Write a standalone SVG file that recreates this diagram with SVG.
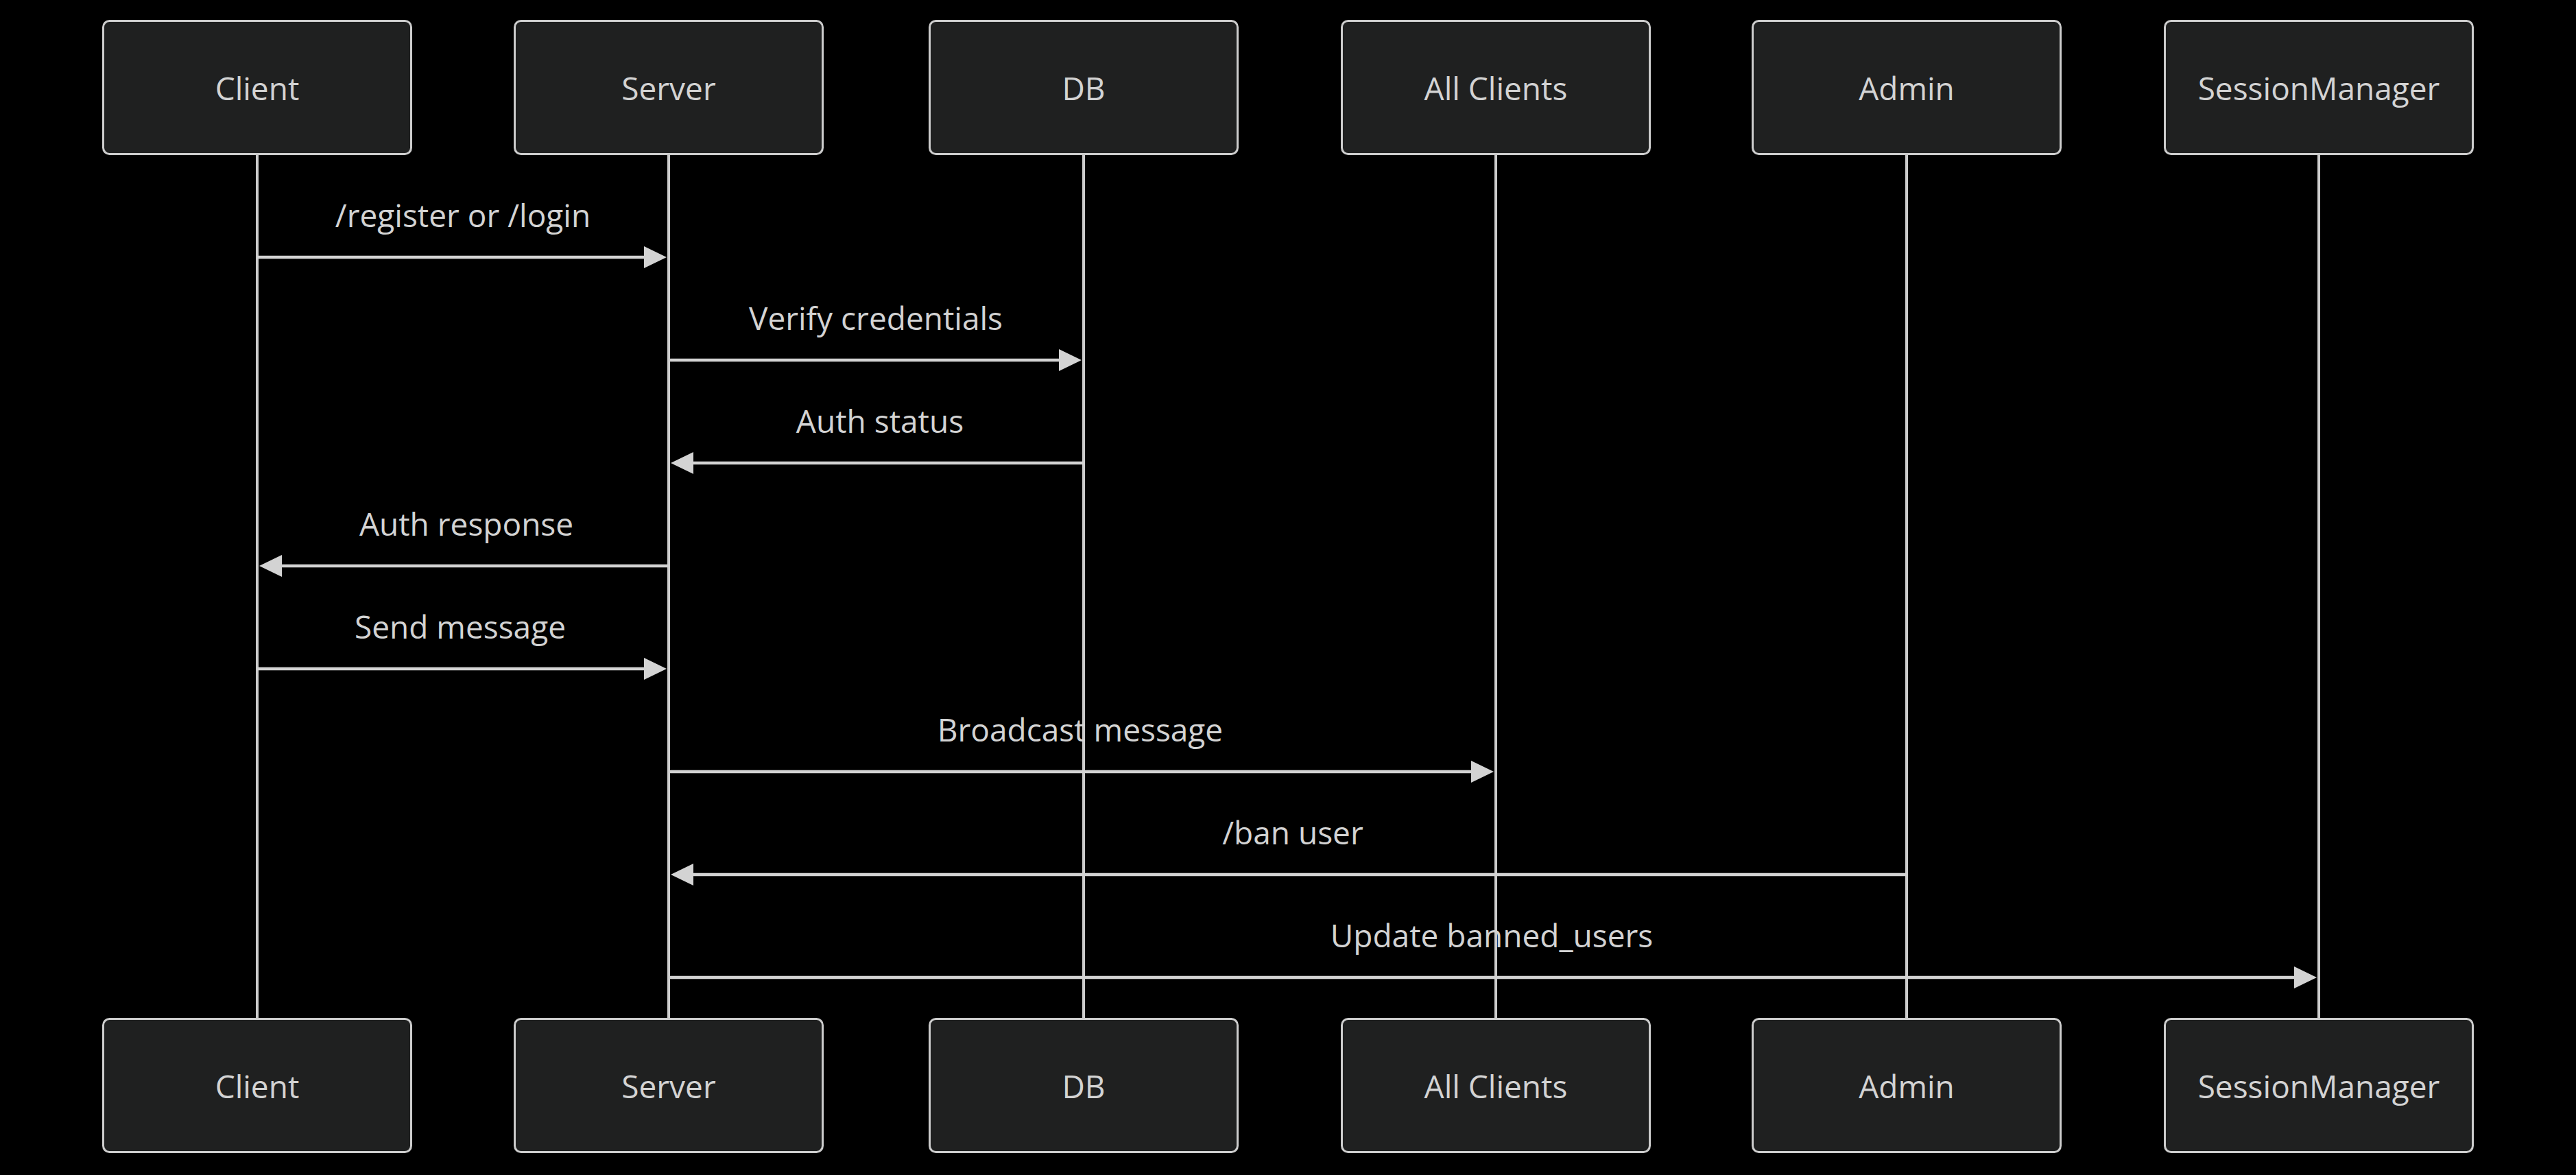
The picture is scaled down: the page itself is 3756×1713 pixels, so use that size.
<svg xmlns="http://www.w3.org/2000/svg" width="3756" height="1713" viewBox="0 0 3756 1713">
<style>
.actor rect{fill:#1f2020;stroke:#cccccc;stroke-width:3}
.actor text{fill:#d3d3d3;font-family:"Open Sans",sans-serif;font-size:46px;text-anchor:middle;dominant-baseline:central}
.life{stroke:#cccccc;stroke-width:4}
.msg line{stroke:#d3d3d3;stroke-width:4.5}
.msg polygon{fill:#d3d3d3}
.msg text{fill:#d3d3d3;font-family:"Open Sans",sans-serif;font-size:46px;text-anchor:middle}
</style>
<rect width="3756" height="1713" fill="#000000"/>
<g id="lifelines">
<line class="life" x1="375" y1="226" x2="375" y2="1484"/>
<line class="life" x1="975" y1="226" x2="975" y2="1484"/>
<line class="life" x1="1580" y1="226" x2="1580" y2="1484"/>
<line class="life" x1="2181" y1="226" x2="2181" y2="1484"/>
<line class="life" x1="2780" y1="226" x2="2780" y2="1484"/>
<line class="life" x1="3381" y1="226" x2="3381" y2="1484"/>
</g>
<g id="actor-client" class="actor">
<rect x="150.5" y="30.5" width="449" height="194" rx="9"/><text x="375" y="128">Client</text>
<rect x="150.5" y="1485.5" width="449" height="194" rx="9"/><text x="375" y="1583">Client</text>
</g>
<g id="actor-server" class="actor">
<rect x="750.5" y="30.5" width="449" height="194" rx="9"/><text x="975" y="128">Server</text>
<rect x="750.5" y="1485.5" width="449" height="194" rx="9"/><text x="975" y="1583">Server</text>
</g>
<g id="actor-db" class="actor">
<rect x="1355.5" y="30.5" width="449" height="194" rx="9"/><text x="1580" y="128">DB</text>
<rect x="1355.5" y="1485.5" width="449" height="194" rx="9"/><text x="1580" y="1583">DB</text>
</g>
<g id="actor-allclients" class="actor">
<rect x="1956.5" y="30.5" width="449" height="194" rx="9"/><text x="2181" y="128">All Clients</text>
<rect x="1956.5" y="1485.5" width="449" height="194" rx="9"/><text x="2181" y="1583">All Clients</text>
</g>
<g id="actor-admin" class="actor">
<rect x="2555.5" y="30.5" width="449" height="194" rx="9"/><text x="2780" y="128">Admin</text>
<rect x="2555.5" y="1485.5" width="449" height="194" rx="9"/><text x="2780" y="1583">Admin</text>
</g>
<g id="actor-sessionmanager" class="actor">
<rect x="3156.5" y="30.5" width="449" height="194" rx="9"/><text x="3381" y="128">SessionManager</text>
<rect x="3156.5" y="1485.5" width="449" height="194" rx="9"/><text x="3381" y="1583">SessionManager</text>
</g>
<g id="connectors" class="msg">
<line x1="375" y1="375" x2="945" y2="375"/><polygon points="972,375 939,359 939,391"/>
<text x="675" y="331">/register or /login</text>
<line x1="975" y1="525" x2="1550" y2="525"/><polygon points="1577,525 1544,509 1544,541"/>
<text x="1277" y="481">Verify credentials</text>
<line x1="1580" y1="675" x2="1005" y2="675"/><polygon points="978,675 1011,659 1011,691"/>
<text x="1283" y="631">Auth status</text>
<line x1="975" y1="825" x2="405" y2="825"/><polygon points="378,825 411,809 411,841"/>
<text x="680" y="781">Auth response</text>
<line x1="375" y1="975" x2="945" y2="975"/><polygon points="972,975 939,959 939,991"/>
<text x="671" y="931">Send message</text>
<line x1="975" y1="1125" x2="2151" y2="1125"/><polygon points="2178,1125 2145,1109 2145,1141"/>
<text x="1575" y="1081">Broadcast message</text>
<line x1="2780" y1="1275" x2="1005" y2="1275"/><polygon points="978,1275 1011,1259 1011,1291"/>
<text x="1885" y="1231">/ban user</text>
<line x1="975" y1="1425" x2="3351" y2="1425"/><polygon points="3378,1425 3345,1409 3345,1441"/>
<text x="2175" y="1381">Update banned_users</text>
</g>
</svg>
